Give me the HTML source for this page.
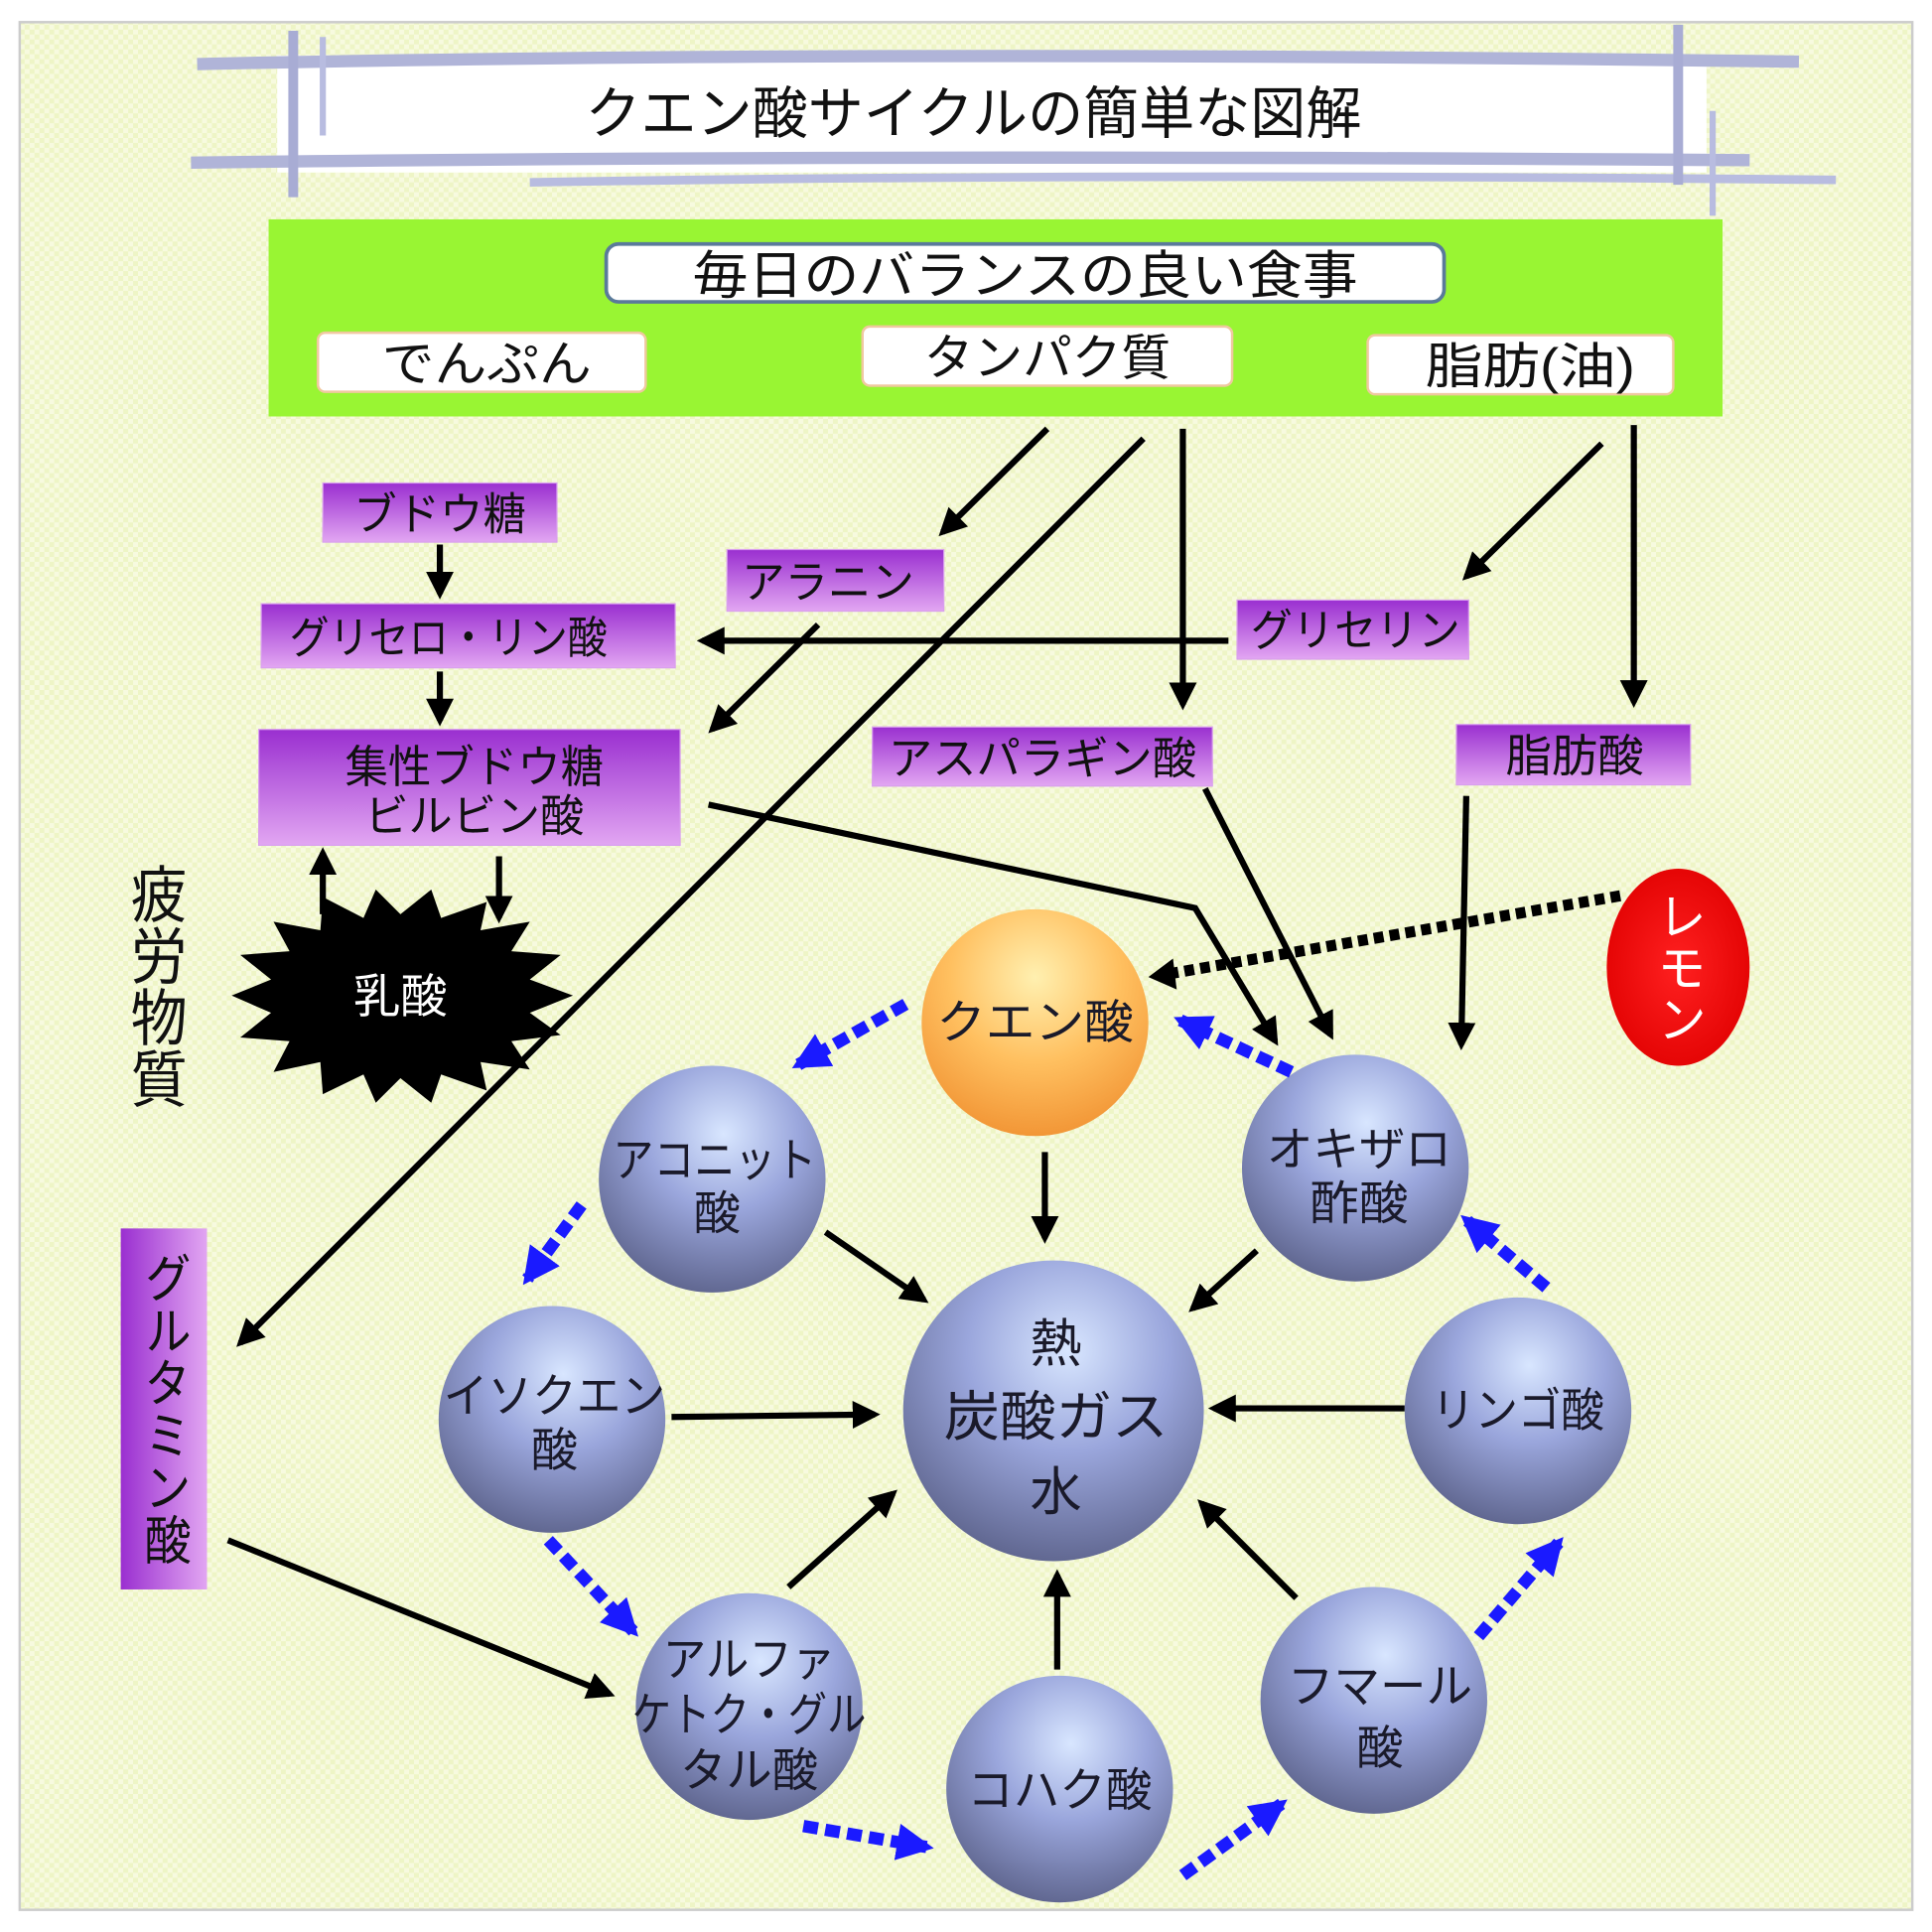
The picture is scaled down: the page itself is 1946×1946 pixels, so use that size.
<!DOCTYPE html>
<html><head><meta charset="utf-8"><style>
html,body{margin:0;padding:0;background:#fff}
svg{display:block}
text{font-family:"Liberation Sans","Noto Sans CJK JP",sans-serif;}
</style></head><body>
<svg width="1946" height="1946" viewBox="0 0 1568 1568" xmlns="http://www.w3.org/2000/svg">
<defs>
<pattern id="chk" width="8" height="8" patternUnits="userSpaceOnUse">
<rect width="8" height="8" fill="#f7fadf"/><rect width="4" height="4" fill="#eef5c6"/><rect x="4" y="4" width="4" height="4" fill="#eef5c6"/>
</pattern>
<linearGradient id="pur" x1="0" y1="0" x2="0" y2="1"><stop offset="0" stop-color="#9a2fd0"/><stop offset="1" stop-color="#e2a6f2"/></linearGradient>
<linearGradient id="purv" x1="0" y1="0" x2="1" y2="0"><stop offset="0" stop-color="#9a2fd0"/><stop offset="1" stop-color="#e2a6f2"/></linearGradient>
<radialGradient id="sph" cx="0.55" cy="0.3" r="0.75"><stop offset="0" stop-color="#d8e6ff"/><stop offset="0.45" stop-color="#9aa6dc"/><stop offset="1" stop-color="#5a6088"/></radialGradient>
<radialGradient id="org" cx="0.5" cy="0.3" r="0.75"><stop offset="0" stop-color="#fff0b0"/><stop offset="0.5" stop-color="#ffc060"/><stop offset="1" stop-color="#f09030"/></radialGradient>
<radialGradient id="red" cx="0.5" cy="0.5" r="0.6"><stop offset="0" stop-color="#ff2020"/><stop offset="1" stop-color="#e00000"/></radialGradient>
<marker id="ah" viewBox="0 0 10 10" refX="8" refY="5" markerWidth="4.5" markerHeight="4.5" orient="auto"><path d="M0,0L10,5L0,10z" fill="#000"/></marker>
<marker id="bh" viewBox="0 0 10 10" refX="8" refY="5" markerWidth="3" markerHeight="3" orient="auto"><path d="M0,0L10,5L0,10z" fill="#1a1aff"/></marker>
</defs>
<rect width="1568" height="1568" fill="#fff"/>
<rect x="16" y="18" width="1536" height="1532" fill="url(#chk)"/>
<rect x="16" y="18" width="1536" height="1532" fill="none" stroke="#ccc" stroke-width="2"/>

<rect x="225" y="45" width="1160" height="95" fill="#fff"/>
<path d="M160,52 Q700,40 1460,50" stroke="#b0b4d8" stroke-width="10" fill="none"/>
<path d="M155,132 Q700,125 1420,130" stroke="#b0b4d8" stroke-width="10" fill="none"/>
<path d="M430,148 Q900,140 1490,146" stroke="#b8bce0" stroke-width="7" fill="none"/>
<path d="M238,25 L238,160" stroke="#a8acd4" stroke-width="8"/>
<path d="M262,30 L262,110" stroke="#b8bce0" stroke-width="5"/>
<path d="M1362,20 L1362,150" stroke="#a8acd4" stroke-width="8"/>
<path d="M1390,90 L1390,175" stroke="#b8bce0" stroke-width="5"/>
<text x="790" y="108" font-size="46" text-anchor="middle" fill="#111" textLength="630" lengthAdjust="spacingAndGlyphs">クエン酸サイクルの簡単な図解</text>

<rect x="218" y="178" width="1180" height="160" fill="#99f533"/>
<rect x="492" y="198" width="680" height="47" rx="10" fill="#fff" stroke="#5a7a9a" stroke-width="3"/>
<text x="832" y="238" font-size="42" text-anchor="middle" fill="#111" textLength="540" lengthAdjust="spacingAndGlyphs">毎日のバランスの良い食事</text>
<rect x="258" y="270" width="266" height="48" rx="6" fill="#fff" stroke="#f0c8a0" stroke-width="2"/>
<text x="395" y="309" font-size="40" text-anchor="middle" fill="#111" textLength="170" lengthAdjust="spacingAndGlyphs">でんぷん</text>
<rect x="700" y="265" width="300" height="48" rx="6" fill="#fff" stroke="#f0c8a0" stroke-width="2"/>
<text x="850" y="304" font-size="40" text-anchor="middle" fill="#111" textLength="200" lengthAdjust="spacingAndGlyphs">タンパク質</text>
<rect x="1110" y="272" width="248" height="48" rx="6" fill="#fff" stroke="#f0c8a0" stroke-width="2"/>
<text x="1242" y="311" font-size="40" text-anchor="middle" fill="#111" textLength="170" lengthAdjust="spacingAndGlyphs">脂肪(油)</text>

<g stroke="#000" stroke-width="5" fill="none" marker-end="url(#ah)">
<line x1="850" y1="348" x2="765" y2="432"/>
<line x1="928" y1="356" x2="195" y2="1090"/>
<line x1="960" y1="348" x2="960" y2="572"/>
<line x1="1300" y1="360" x2="1190" y2="468"/>
<line x1="1326" y1="345" x2="1326" y2="570"/>
<line x1="357" y1="442" x2="357" y2="482"/>
<line x1="357" y1="545" x2="357" y2="585"/>
<line x1="997" y1="520" x2="570" y2="520"/>
<line x1="664" y1="507" x2="578" y2="592"/>
<polyline points="575,653 970,737 1035,845"/>
<line x1="978" y1="640" x2="1080" y2="840"/>
<line x1="1190" y1="646" x2="1186" y2="848"/>
<line x1="262" y1="742" x2="262" y2="692"/>
<line x1="405" y1="695" x2="405" y2="745"/>
<line x1="848" y1="935" x2="848" y2="1005"/>
<line x1="670" y1="1000" x2="750" y2="1055"/>
<line x1="1020" y1="1015" x2="968" y2="1062"/>
<line x1="545" y1="1150" x2="710" y2="1148"/>
<line x1="1140" y1="1143" x2="985" y2="1143"/>
<line x1="640" y1="1288" x2="725" y2="1212"/>
<line x1="858" y1="1355" x2="858" y2="1278"/>
<line x1="1052" y1="1297" x2="975" y2="1220"/>
<line x1="185" y1="1250" x2="495" y2="1375"/>
</g>
<line x1="1315" y1="727" x2="945" y2="791" stroke="#000" stroke-width="9" stroke-dasharray="8,5"/>
<path d="M932,793 L952,778 L955,803z" fill="#000"/>

<g fill="url(#pur)" stroke="#d9a0ee" stroke-width="1">
<rect x="262" y="392" width="190" height="48"/>
<rect x="212" y="490" width="336" height="52"/>
<rect x="210" y="592" width="342" height="94"/>
<rect x="590" y="446" width="176" height="50"/>
<rect x="1004" y="487" width="188" height="48"/>
<rect x="708" y="590" width="276" height="48"/>
<rect x="1182" y="588" width="190" height="49"/>
</g>
<rect x="98" y="997" width="70" height="293" fill="url(#purv)"/>
<g font-size="36" fill="#111" text-anchor="middle">
<text x="357" y="430" textLength="140" lengthAdjust="spacingAndGlyphs">ブドウ糖</text>
<text x="364" y="530" textLength="258" lengthAdjust="spacingAndGlyphs">グリセロ・リン酸</text>
<text x="385" y="635" textLength="210" lengthAdjust="spacingAndGlyphs">集性ブドウ糖</text>
<text x="385" y="675" textLength="178" lengthAdjust="spacingAndGlyphs">ビルビン酸</text>
<text x="672" y="485" textLength="140" lengthAdjust="spacingAndGlyphs">アラニン</text>
<text x="1100" y="524" textLength="170" lengthAdjust="spacingAndGlyphs">グリセリン</text>
<text x="846" y="628" textLength="250" lengthAdjust="spacingAndGlyphs">アスパラギン酸</text>
<text x="1278" y="626" textLength="112" lengthAdjust="spacingAndGlyphs">脂肪酸</text>
</g>
<text x="133" y="1143" font-size="38" fill="#111" text-anchor="middle" style="writing-mode:vertical-rl" writing-mode="tb" textLength="255" lengthAdjust="spacingAndGlyphs">グルタミン酸</text>
<text x="125" y="800" font-size="46" fill="#111" text-anchor="middle" writing-mode="tb" style="writing-mode:vertical-rl" textLength="200" lengthAdjust="spacingAndGlyphs">疲労物質</text>

<polygon fill="#000" points="465,808 430,822 455,840 415,845 430,868 390,862 395,885 358,872 350,895 325,875 305,895 295,872 262,888 260,862 222,870 235,845 195,842 220,822 188,808 220,795 195,775 235,772 222,748 260,755 262,728 295,745 305,722 325,742 350,722 358,745 395,732 390,755 430,748 415,772 455,775 430,795"/>
<text x="325" y="822" font-size="38" fill="#fff" text-anchor="middle">乳酸</text>

<ellipse cx="1362" cy="785" rx="58" ry="80" fill="url(#red)"/>
<text x="1362" y="785" font-size="40" fill="#fff" text-anchor="middle" writing-mode="tb" style="writing-mode:vertical-rl" textLength="125" lengthAdjust="spacingAndGlyphs">レモン</text>

<circle cx="840" cy="830" r="92" fill="url(#org)"/>
<g fill="url(#sph)">
<circle cx="578" cy="957" r="92"/>
<circle cx="1100" cy="948" r="92"/>
<circle cx="448" cy="1152" r="92"/>
<circle cx="855" cy="1145" r="122"/>
<circle cx="1232" cy="1145" r="92"/>
<circle cx="608" cy="1385" r="92"/>
<circle cx="860" cy="1452" r="92"/>
<circle cx="1115" cy="1380" r="92"/>
</g>
<g font-size="38" fill="#1a1a2a" text-anchor="middle">
<text x="840" y="843" textLength="160" lengthAdjust="spacingAndGlyphs">クエン酸</text>
<text x="580" y="955" textLength="165" lengthAdjust="spacingAndGlyphs">アコニット</text>
<text x="582" y="998">酸</text>
<text x="1103" y="946" textLength="150" lengthAdjust="spacingAndGlyphs">オキザロ</text>
<text x="1103" y="990" textLength="80" lengthAdjust="spacingAndGlyphs">酢酸</text>
<text x="450" y="1146" textLength="180" lengthAdjust="spacingAndGlyphs">イソクエン</text>
<text x="450" y="1190">酸</text>
<text x="857" y="1105" font-size="42">熱</text>
<text x="857" y="1165" font-size="44" textLength="182" lengthAdjust="spacingAndGlyphs">炭酸ガス</text>
<text x="857" y="1225" font-size="42">水</text>
<text x="1232" y="1158" textLength="140" lengthAdjust="spacingAndGlyphs">リンゴ酸</text>
<text x="608" y="1360" textLength="140" lengthAdjust="spacingAndGlyphs">アルファ</text>
<text x="608" y="1405" textLength="190" lengthAdjust="spacingAndGlyphs">ケトク・グル</text>
<text x="608" y="1450" textLength="112" lengthAdjust="spacingAndGlyphs">タル酸</text>
<text x="860" y="1466" textLength="150" lengthAdjust="spacingAndGlyphs">コハク酸</text>
<text x="1120" y="1382" textLength="150" lengthAdjust="spacingAndGlyphs">フマール</text>
<text x="1120" y="1432">酸</text>
</g>

<g stroke="#1a1aff" stroke-width="10" stroke-dasharray="12,6" fill="none" marker-end="url(#bh)">
<line x1="735" y1="815" x2="648" y2="864"/>
<line x1="1048" y1="870" x2="958" y2="828"/>
<line x1="472" y1="978" x2="428" y2="1038"/>
<line x1="1255" y1="1045" x2="1190" y2="990"/>
<line x1="445" y1="1250" x2="514" y2="1324"/>
<line x1="1200" y1="1328" x2="1265" y2="1252"/>
<line x1="652" y1="1482" x2="752" y2="1499"/>
<line x1="960" y1="1522" x2="1040" y2="1464"/>
</g>
</svg>
</body></html>
